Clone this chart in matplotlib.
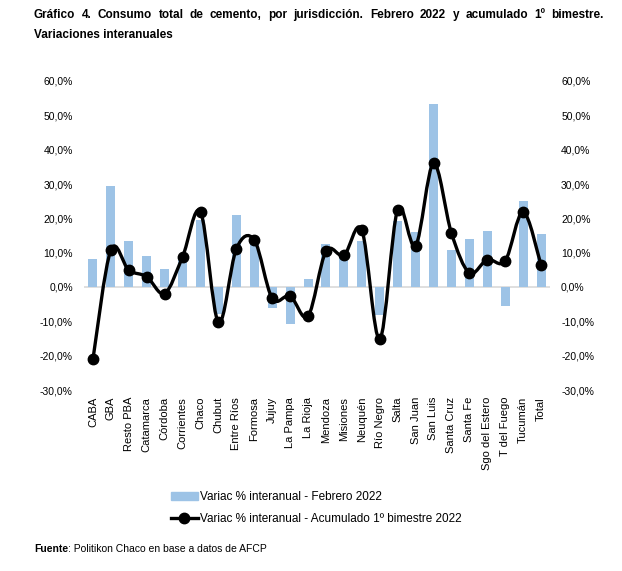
import matplotlib.pyplot as plt
import numpy as np
from matplotlib.path import Path
from matplotlib.patches import PathPatch, Patch
from matplotlib.lines import Line2D
from matplotlib.ticker import FuncFormatter, MultipleLocator

plt.rcParams['font.family'] = ['Liberation Sans', 'DejaVu Sans']

# data
provincias = ['CABA', 'GBA', 'Resto PBA', 'Catamarca', 'Córdoba', 'Corrientes', 'Chaco',
              'Chubut', 'Entre Ríos', 'Formosa', 'Jujuy', 'La Pampa', 'La Rioja', 'Mendoza',
              'Misiones', 'Neuquén', 'Río Negro', 'Salta', 'San Juan', 'San Luis',
              'Santa Cruz', 'Santa Fe', 'Sgo del Estero', 'T del Fuego', 'Tucumán', 'Total']
febrero = [8.2, 29.4, 13.3, 9.1, 5.2, 8.6, 19.6, -8.0, 21.0, 13.5, -6.2, -10.9, 2.2,
           12.6, 9.0, 13.4, -8.1, 19.3, 16.0, 53.4, 10.9, 14.1, 16.4, -5.5, 25.0, 15.5]
acumulado = [-21.0, 10.8, 4.9, 3.0, -1.9, 8.8, 21.9, -10.3, 11.1, 13.7, -3.3, -2.6, -8.5,
             10.4, 9.2, 16.6, -15.2, 22.5, 12.0, 36.0, 15.7, 4.1, 8.0, 7.6, 21.9, 6.4]

titulo_1 = 'Gráfico 4. Consumo total de cemento, por jurisdicción. Febrero 2022 y acumulado 1º bimestre.'
titulo_2 = 'Variaciones interanuales'

BAR_COLOR = '#9DC3E6'
W, H = 622, 571


# smoothed line like the spreadsheet "smooth line" option (cubic bezier segments)
def smooth_path(x, y):
    pts = np.column_stack([x, y]).astype(float)
    ext = np.vstack([pts[0], pts, pts[-1]])
    verts = [pts[0]]
    codes = [Path.MOVETO]
    for i in range(len(pts) - 1):
        p0, p1, p2, p3 = ext[i], ext[i + 1], ext[i + 2], ext[i + 3]
        c1 = p1 + (p2 - p0) / 6.0
        c2 = p2 - (p3 - p1) / 6.0
        verts += [c1, c2, p2]
        codes += [Path.CURVE4] * 3
    return Path(verts, codes)


# justified text line between two pixel positions (y is the baseline)
def justified(fig, text, x0, x1, y, **kw):
    words = text.split(' ')
    r = fig.canvas.get_renderer()
    arts = [fig.text(0, 1 - y / H, w, va='baseline', ha='left', **kw) for w in words]
    widths = [a.get_window_extent(r).width for a in arts]
    gap = (x1 - x0 - sum(widths)) / (len(words) - 1)
    x = x0
    for a, w in zip(arts, widths):
        a.set_x(x / W)
        x += w + gap


fig = plt.figure(figsize=(W / 100, H / 100), dpi=100)
ax = fig.add_axes([84 / W, 1 - 390 / H, (550 - 84) / W, (390 - 81) / H])

xs = np.arange(len(provincias))
ax.bar(xs, febrero, width=0.5, color=BAR_COLOR, zorder=2)
ax.axhline(0, color='#D9D9D9', lw=1.2, zorder=1)
ax.add_patch(PathPatch(smooth_path(xs, acumulado), fill=False, ec='black', lw=2.4,
                       capstyle='round', joinstyle='round', zorder=3))
ax.plot(xs, acumulado, 'o', color='black', markersize=7.5, zorder=4)

ax.set_xlim(-0.5, len(provincias) - 0.5)
ax.set_ylim(-30, 60)
ax.yaxis.set_major_locator(MultipleLocator(10))
fmt = FuncFormatter(lambda v, p: '{:.1f}%'.format(v).replace('.', ','))
ax.yaxis.set_major_formatter(fmt)
ax.set_xticks(xs)
ax.set_xticklabels(provincias, rotation=90, fontsize=8)
ax.tick_params(axis='x', length=0, pad=5)
ax.tick_params(axis='y', length=0, pad=8, labelsize=7.5)
for s in ax.spines.values():
    s.set_visible(False)

ax2 = ax.twinx()
ax2.set_ylim(-30, 60)
ax2.yaxis.set_major_locator(MultipleLocator(10))
ax2.yaxis.set_major_formatter(fmt)
ax2.tick_params(axis='y', length=0, pad=8, labelsize=7.5)
for s in ax2.spines.values():
    s.set_visible(False)

# title
justified(fig, titulo_1, 34, 604, 18, fontsize=8.5, fontweight='bold')
fig.text(34 / W, 1 - 38 / H, titulo_2, fontsize=8.5, fontweight='bold',
         va='baseline', ha='left')

# legend
handles = [Patch(color=BAR_COLOR),
           Line2D([], [], color='black', lw=2.4, marker='o', markersize=7.5)]
labels = ['Variac % interanual - Febrero 2022',
          'Variac % interanual - Acumulado 1º bimestre 2022']
fig.legend(handles, labels, loc='upper left', bbox_to_anchor=(165 / W, 1 - 485 / H),
           frameon=False, fontsize=8.5, handlelength=2.3, handletextpad=0.15,
           labelspacing=0.85, borderpad=0)

# source
t = fig.text(34 / W, 1 - 552 / H, 'Fuente', fontsize=7.5, fontweight='bold',
             va='baseline', ha='left')
ax.annotate(': Politikon Chaco en base a datos de AFCP', xy=(1, 0), xycoords=t,
            fontsize=7.5, va='bottom', ha='left', annotation_clip=False)

fig.savefig('out.png', dpi=100)
